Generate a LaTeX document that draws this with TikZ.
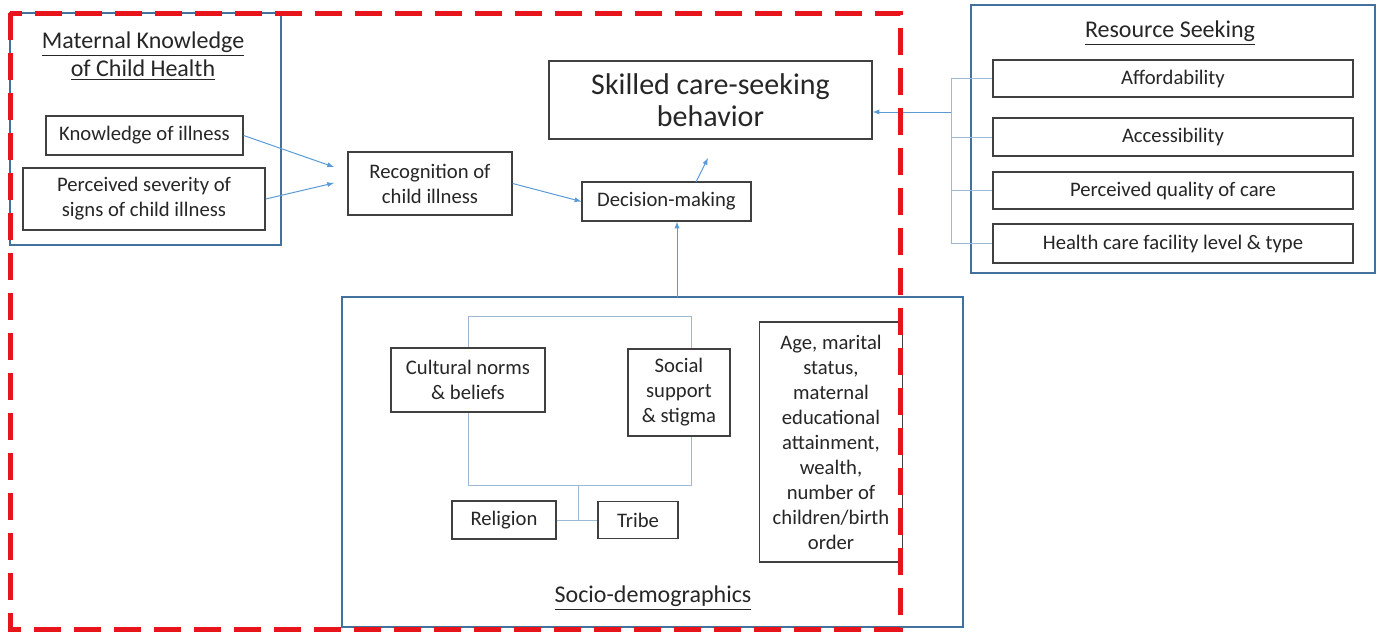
\documentclass[tikz,border=0pt]{standalone}
\usepackage{fontspec}
\setmainfont{Carlito}
\usepackage{tikz}
\usetikzlibrary{arrows, calc}

\definecolor{groupblue}{HTML}{41719C}
\definecolor{linkblue}{HTML}{5B9BD5}
\definecolor{treeblue}{HTML}{9DB9D8}
\definecolor{dashred}{HTML}{E8141B}
\definecolor{inkgray}{HTML}{262626}

\begin{document}
\begin{tikzpicture}[x=0.75pt, y=-0.75pt, >=latex,
  box/.style={draw=black!75, line width=1pt, fill=white, align=center, inner sep=2pt,
    text=inkgray, font=\fontsize{15.5}{18.75}\selectfont},
  group/.style={draw=groupblue, line width=2.2pt, inner sep=0pt},
  grouptitle/.style={align=center, text=inkgray, font=\fontsize{18}{21}\selectfont},
  link/.style={->, draw=linkblue, line width=0.75pt},
  tree/.style={draw=treeblue, line width=0.75pt},
  reddash/.style={draw=dashred, line width=3.75pt, dash pattern=on 20pt off 10pt}]
\useasboundingbox (0,0) rectangle (1382,632);

% Maternal knowledge
\node[group, minimum width=203.25pt, minimum height=174pt] (maternal) at (145.5,129) {};
\node[grouptitle] (maternaltitle) at (143,56) {\underline{Maternal Knowledge}\\\underline{of Child Health}};
\node[box, minimum width=147.75pt, minimum height=29.25pt] (know) at (144.5,135.5) {Knowledge of illness};
\node[box, minimum width=181.5pt, minimum height=46.5pt] (severity) at (144,199) {Perceived severity of\\signs of child illness};

% Middle chain
\node[box, minimum width=123pt, minimum height=47.25pt] (recog) at (430,183.5) {Recognition of\\child illness};
\node[box, minimum width=126.75pt, minimum height=29.25pt] (decide) at (666.5,201.5) {Decision-making};
\node[box, minimum width=242.25pt, minimum height=58.5pt, font=\fontsize{22.5}{24}\selectfont] (skilled) at (710.5,100) {Skilled care-seeking\\behavior};

% Resource seeking
\node[group, minimum width=303pt, minimum height=201pt] (resource) at (1173,139) {};
\node[grouptitle] (resourcetitle) at (1170,33) {\underline{Resource Seeking}};
\node[box, minimum width=270pt, minimum height=27.75pt] (afford) at (1173,78.5) {Affordability};
\node[box, minimum width=270pt, minimum height=28.5pt] (access) at (1173,137) {Accessibility};
\node[box, minimum width=270pt, minimum height=27.75pt] (quality) at (1173,190.5) {Perceived quality of care};
\node[box, minimum width=270pt, minimum height=29.25pt] (facility) at (1173,243.5) {Health care facility level \& type};

% Socio-demographics
\node[group, minimum width=465.75pt, minimum height=247.5pt] (socio) at (652.5,462) {};
\node[grouptitle] (sociotitle) at (653,598) {\underline{Socio-demographics}};
\draw[tree] (468,316) rectangle (691,485);
\coordinate (loopbot) at (578,485);
\node[box, minimum width=115.5pt, minimum height=48pt] (culture) at (468,380) {Cultural norms\\\& beliefs};
\node[box, minimum width=76.5pt, minimum height=65.25pt] (social) at (679,392.5) {Social\\support\\\& stigma};
\node[box, minimum width=107.25pt, minimum height=180pt] (age) at (831,442) {Age, marital\\status,\\maternal\\educational\\attainment,\\wealth,\\number of\\children/birth\\order};
\node[box, minimum width=78pt, minimum height=28.5pt] (religion) at (504,520) {Religion};
\node[box, minimum width=60pt, minimum height=27.75pt] (tribe) at (638,520) {Tribe};
\draw[tree] (loopbot) -- (loopbot |- religion.east);
\draw[tree] (religion.east) -- (tribe.west);

% Arrows
\coordinate (knowtip) at (334,167);
\coordinate (sevtip) at (334,183);
\draw[link] (know.east) -- (knowtip);
\draw[link] (severity.east) -- (sevtip);
\draw[link] (recog.east) -- (decide.west);
\coordinate (dmtop) at (696,182);
\coordinate (dmtip) at (708,158);
\draw[link] (dmtop) -- (dmtip);
\coordinate (up) at (677,297);
\draw[link] (up) -- (up |- decide.south);

% Resource bracket
\coordinate (rsbar) at (951,112);
\draw[tree] (afford.west) -| (rsbar) |- (facility.west);
\draw[tree] (access.west) -- (access.west -| rsbar);
\draw[tree] (quality.west) -- (quality.west -| rsbar);
\draw[link] (rsbar) -- (rsbar -| skilled.east);

% Red dashed frame
\draw[reddash] (10,13) rectangle (900,629);
\end{tikzpicture}
\end{document}
